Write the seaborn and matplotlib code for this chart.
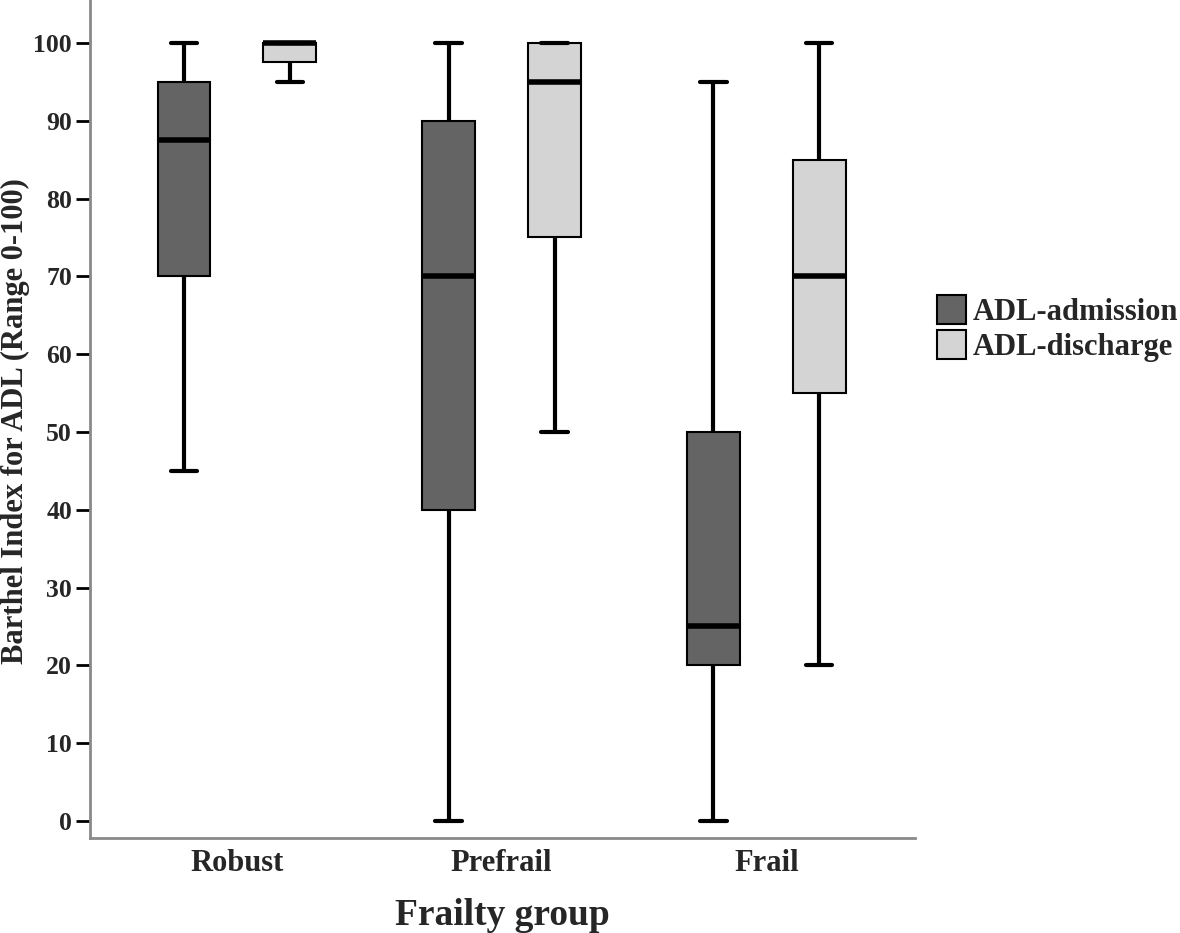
import pandas as pd
import matplotlib.pyplot as plt
import seaborn as sns

# five-number summaries: min, q1, median, q3, max
groups = ["Robust", "Prefrail", "Frail"]
phases = ["ADL-admission", "ADL-discharge"]
admission = [[45, 70, 87.5, 95, 100],
             [0, 40, 70, 90, 100],
             [0, 20, 25, 50, 95]]
discharge = [[95, 97.5, 100, 100, 100],
             [50, 75, 95, 100, 100],
             [20, 55, 70, 85, 100]]
y_ticks = list(range(0, 101, 10))

rows = []
for g, adm, dis in zip(groups, admission, discharge):
    for v in adm:
        rows.append((g, phases[0], v))
    for v in dis:
        rows.append((g, phases[1], v))
df = pd.DataFrame(rows, columns=["group", "phase", "value"])

sns.set_style("white")
plt.rcParams["font.family"] = ["Liberation Serif", "DejaVu Serif"]
plt.rcParams["font.weight"] = "bold"

fig = plt.figure(figsize=(11.8, 9.33), dpi=100)
ax = fig.add_axes([0.0763, 0.1018, 0.6987, 0.898])

sns.boxplot(data=df, x="group", y="value", hue="phase", order=groups,
            hue_order=phases, palette=["#646464", "#d4d4d4"],
            whis=(0, 100), width=0.8, gap=0.5, linecolor="black",
            linewidth=1.5, fliersize=0,
            medianprops=dict(linewidth=4, color="black"),
            whiskerprops=dict(linewidth=3, color="black"),
            capprops=dict(linewidth=3, color="black"),
            ax=ax)

ax.set_xlim(-0.555, 2.56)
ax.set_ylim(-2.2, 105.5)
ax.set_yticks(y_ticks)
ax.set_yticklabels([str(t) for t in y_ticks], fontsize=18.5, fontweight="bold")
ax.set_xticks(range(len(groups)))
ax.set_xticklabels(groups, fontsize=22, fontweight="bold")
ax.tick_params(axis="y", length=10, width=2, color="black", pad=3, left=True)
ax.tick_params(axis="x", length=0, pad=8)

for side in ["top", "right"]:
    ax.spines[side].set_visible(False)
for side in ["left", "bottom"]:
    ax.spines[side].set_color("#8a8a8a")
    ax.spines[side].set_linewidth(2)

ax.set_xlabel("Frailty group", fontsize=27, fontweight="bold", labelpad=14)
ax.set_ylabel("")
fig.text(15 / 1180, 0.5 + (933 / 2 - 421) / 933,
         "Barthel Index for ADL (Range 0-100)", rotation=90,
         ha="center", va="center", fontsize=22, fontweight="bold")

ax.legend_.remove()
handles, labels = ax.get_legend_handles_labels()
fig.legend(handles, labels, loc="center left", bbox_to_anchor=(0.784, 0.648),
           frameon=False, prop=dict(size=22, weight="bold"),
           handlelength=0.95, handleheight=1.1, handletextpad=0.2,
           labelspacing=0.1, borderaxespad=0)

fig.savefig("out.png", dpi=100)
